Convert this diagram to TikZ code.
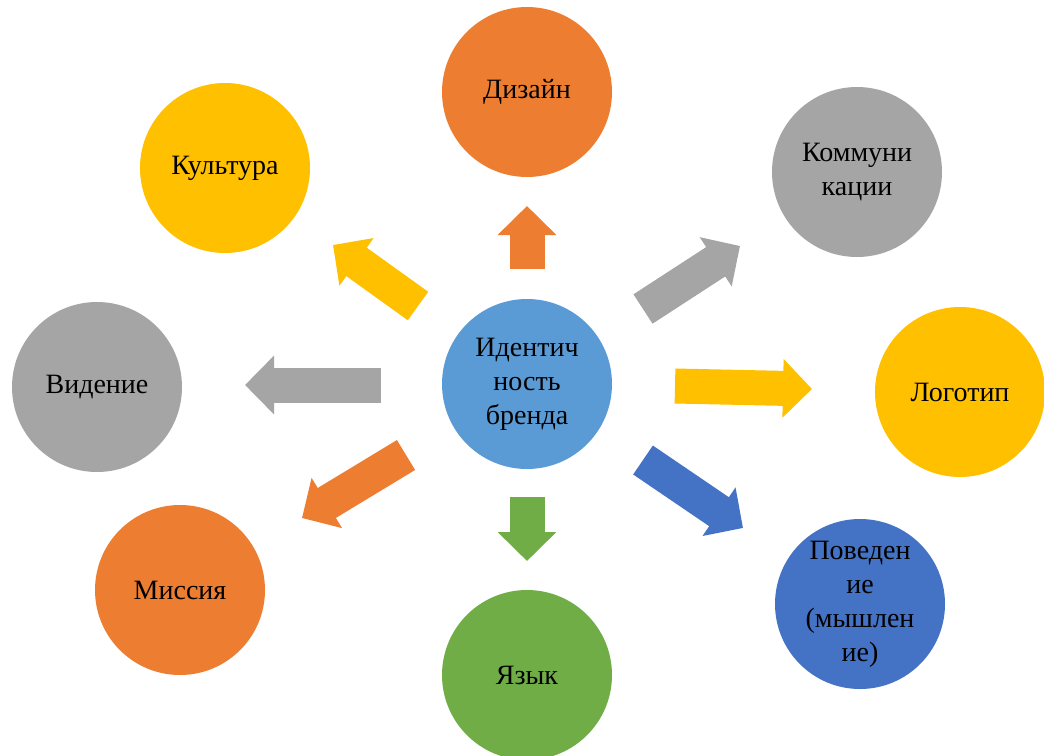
\documentclass[tikz,border=0pt]{standalone}
\usepackage{fontspec}
\setmainfont{Liberation Serif}
\usetikzlibrary{arrows.meta}
\definecolor{cOrange}{HTML}{ED7D31}
\definecolor{cGrey}{HTML}{A5A5A5}
\definecolor{cYellow}{HTML}{FFC000}
\definecolor{cLBlue}{HTML}{5B9BD5}
\definecolor{cDBlue}{HTML}{4472C4}
\definecolor{cGreen}{HTML}{70AD47}
\tikzset{
  bubble/.style={circle, minimum size=170pt, inner sep=-10pt, align=center,
    text width=110pt, font=\fontsize{28}{34}\selectfont, text=black},
  blockarrow/.style={line width=35pt, line cap=butt,
    -{Triangle[width=57pt,length=29pt]}}
}
\begin{document}
\begin{tikzpicture}[x=1pt,y=-1pt]
\useasboundingbox (0,0) rectangle (1044,755);
\clip (0,0) rectangle (1044,755);
\fill[white] (0,0) rectangle (1044,755);

\node[bubble, fill=cLBlue] (brand) at (527,384) {Идентич\\ность\\бренда};
\node[bubble, fill=cOrange] (design) at (527,92) {Дизайн};
\node[bubble, fill=cYellow] (culture) at (225,168) {Культура};
\node[bubble, fill=cGrey] (comm) at (857,172) {Коммуни\\кации};
\node[bubble, fill=cGrey] (vision) at (97,387) {Видение};
\node[bubble, fill=cYellow] (logo) at (960,392) {Логотип};
\node[bubble, fill=cOrange] (mission) at (180,590) {Миссия};
\node[bubble, fill=cGreen] (lang) at (527,675) {Язык};
\node[bubble, fill=cDBlue] (behav) at (860,604) {Поведен\\ие\\(мышлен\\ие)};

% arrow end points
\coordinate (dS) at (527,269); \coordinate (dE) at (527,206);
\coordinate (cS) at (418,306); \coordinate (cE) at (333,245);
\coordinate (kS) at (643,309); \coordinate (kE) at (740,246);
\coordinate (vS) at (381,385); \coordinate (vE) at (245,385);
\coordinate (lS) at (675,386); \coordinate (lE) at (812,389);
\coordinate (mS) at (406,455); \coordinate (mE) at (302,518);
\coordinate (yS) at (527,497); \coordinate (yE) at (527,561);
\coordinate (bS) at (643,460); \coordinate (bE) at (743,528);

\draw[blockarrow, cOrange] (dS) -- (dE);
\draw[blockarrow, cYellow] (cS) -- (cE);
\draw[blockarrow, cGrey] (kS) -- (kE);
\draw[blockarrow, cGrey] (vS) -- (vE);
\draw[blockarrow, cYellow] (lS) -- (lE);
\draw[blockarrow, cOrange] (mS) -- (mE);
\draw[blockarrow, cGreen] (yS) -- (yE);
\draw[blockarrow, cDBlue] (bS) -- (bE);
\end{tikzpicture}
\end{document}
